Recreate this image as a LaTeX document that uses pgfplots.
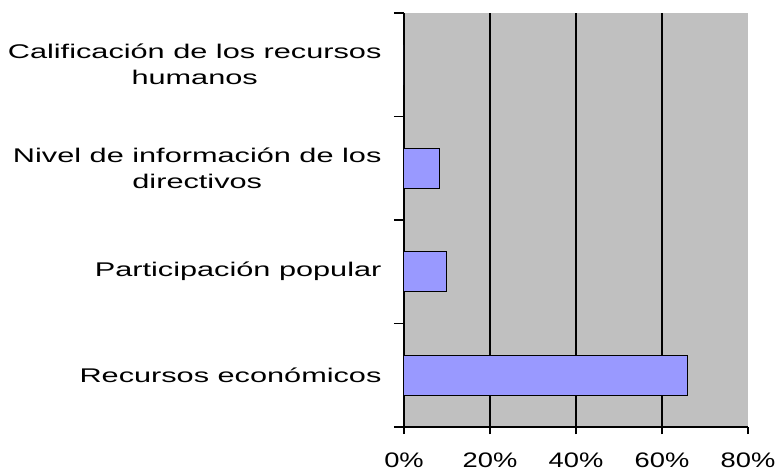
\documentclass[border=0pt]{standalone}
\usepackage{pgfplots}
\pgfplotsset{compat=1.18}
\usepackage{fontspec}
\setmainfont{Liberation Sans}[FakeStretch=1.55]
\newfontfamily\tickfont{Liberation Sans}[FakeStretch=1.3]
\definecolor{bg}{HTML}{C0C0C0}
\definecolor{barc}{HTML}{9999FF}
\begin{document}
\begin{tikzpicture}
\path[use as bounding box] (-404pt,-42pt) rectangle (371pt,427pt);
\begin{axis}[
  at={(0,0)}, anchor=south west,
  scale only axis,
  width=344pt, height=414pt,
  xmin=0, xmax=80, ymin=-0.5, ymax=3.5,
  axis lines=left,
  axis line style={-, line width=1.3pt, black},
  axis background/.style={fill=bg},
  xbar, bar width=40pt,
  xtick={0,20,40,60,80},
  xticklabels={0\%,20\%,40\%,60\%,80\%},
  ytick={0,1,2,3},
  yticklabels={Recursos económicos, Participación popular, {Nivel de información de los\\directivos}, {Calificación de los recursos\\humanos}},
  minor ytick={-0.5,0.5,1.5,2.5,3.5},
  tick align=outside,
  major tick length=7pt,
  minor tick length=10pt,
  xtick style={draw=black, line width=1.3pt},
  major y tick style={draw=none},
  minor y tick style={draw=black, line width=1.3pt},
  yticklabel style={align=center, font=\fontsize{19.8}{26}\selectfont, xshift=-12pt},
  xticklabel style={font=\tickfont\fontsize{21}{24}\selectfont, inner sep=0pt, text depth=0pt, yshift=-19pt},
  /pgf/number format/assume math mode=true,
  extra x ticks={20,40,60},
  extra x tick labels={},
  extra x tick style={grid=major, major grid style={black, line width=1.3pt}},
  clip=false,
]
\addplot[fill=barc, draw=black, line width=1pt] coordinates {(66,0) (9.9,1) (8.2,2) (0,3)};
\end{axis}
\end{tikzpicture}
\end{document}
